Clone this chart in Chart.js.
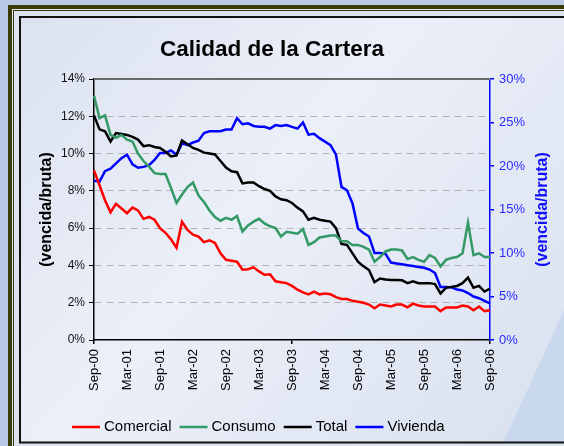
<!DOCTYPE html>
<html>
<head>
<meta charset="utf-8">
<script src="https://cdn.jsdelivr.net/npm/chart.js@4"></script>
<style>
  html, body { margin: 0; padding: 0; background: #b9c9e5; }
  canvas { display: block; }
</style>
</head>
<body>
<canvas id="chart" width="564" height="446"></canvas>
<script>
// monthly categories, Sep-00 .. Sep-06
const months = [
  'Sep-00','Oct-00','Nov-00','Dic-00',
  'Ene-01','Feb-01','Mar-01','Abr-01','May-01','Jun-01','Jul-01','Ago-01','Sep-01','Oct-01','Nov-01','Dic-01',
  'Ene-02','Feb-02','Mar-02','Abr-02','May-02','Jun-02','Jul-02','Ago-02','Sep-02','Oct-02','Nov-02','Dic-02',
  'Ene-03','Feb-03','Mar-03','Abr-03','May-03','Jun-03','Jul-03','Ago-03','Sep-03','Oct-03','Nov-03','Dic-03',
  'Ene-04','Feb-04','Mar-04','Abr-04','May-04','Jun-04','Jul-04','Ago-04','Sep-04','Oct-04','Nov-04','Dic-04',
  'Ene-05','Feb-05','Mar-05','Abr-05','May-05','Jun-05','Jul-05','Ago-05','Sep-05','Oct-05','Nov-05','Dic-05',
  'Ene-06','Feb-06','Mar-06','Abr-06','May-06','Jun-06','Jul-06','Ago-06','Sep-06'
];
const tickLabels = ['Sep-00','Mar-01','Sep-01','Mar-02','Sep-02','Mar-03','Sep-03','Mar-04','Sep-04','Mar-05','Sep-05','Mar-06','Sep-06'];

// % vencida/bruta (left axis)
const comercial = [9.1, 8.3, 7.5, 6.85, 7.3, 7.05, 6.8, 7.1, 6.95, 6.5, 6.6, 6.45, 6.0, 5.75, 5.4, 4.95, 6.35, 5.9, 5.65, 5.55, 5.25, 5.35, 5.2, 4.65, 4.3, 4.25, 4.2, 3.77, 3.8, 3.9, 3.68, 3.5, 3.53, 3.15, 3.1, 3.05,
  2.9, 2.7, 2.55, 2.45, 2.6, 2.45, 2.5, 2.45, 2.3, 2.2, 2.2, 2.1, 2.05, 2.0, 1.9, 1.7, 1.9, 1.85, 1.8, 1.9, 1.9, 1.75, 1.95, 1.85, 1.8, 1.8, 1.8, 1.55, 1.75, 1.75, 1.75, 1.85, 1.8, 1.6, 1.8, 1.55, 1.6];
const consumo = [13.1, 11.9, 12.05, 11.0, 10.85, 11.0, 10.75, 10.65, 10.0, 9.6, 9.3, 8.95, 8.9, 8.9, 8.15, 7.35, 7.8, 8.2, 8.45, 7.75, 7.4, 6.95, 6.6, 6.4, 6.55, 6.45, 6.65, 5.82, 6.15, 6.35, 6.5, 6.25, 6.1, 6.0, 5.55, 5.8,
  5.75, 5.7, 5.95, 5.1, 5.25, 5.5, 5.55, 5.6, 5.6, 5.3, 5.3, 5.1, 5.1, 5.0, 4.85, 4.2, 4.45, 4.75, 4.85, 4.85, 4.8, 4.35, 4.45, 4.3, 4.2, 4.55, 4.4, 3.95, 4.3, 4.4, 4.45, 4.65, 6.3, 4.55, 4.65, 4.45, 4.45];
const total = [12.05, 11.3, 11.2, 10.65, 11.1, 11.05, 11.0, 10.9, 10.75, 10.4, 10.45, 10.35, 10.3, 10.1, 9.85, 9.9, 10.7, 10.5, 10.3, 10.2, 10.05, 10.0, 9.95, 9.6, 9.25, 9.05, 9.0, 8.4, 8.45, 8.45, 8.25, 8.1, 8.0, 7.7, 7.55, 7.5,
  7.35, 7.1, 6.9, 6.45, 6.55, 6.45, 6.4, 6.35, 6.0, 5.15, 5.1, 4.65, 4.2, 3.95, 3.75, 3.1, 3.3, 3.25, 3.22, 3.22, 3.2, 3.05, 3.15, 3.05, 3.05, 3.05, 3.0, 2.5, 2.8, 2.85, 2.9, 3.05, 3.35, 2.8, 2.9, 2.6, 2.75];
// right axis
const vivienda = [18.3, 18.2, 19.4, 19.7, 20.3, 20.9, 21.3, 20.2, 19.8, 19.9, 20.1, 20.7, 21.5, 21.5, 21.8, 21.3, 22.6, 22.4, 22.7, 22.9, 23.8, 24.0, 24.0, 24.0, 24.2, 24.2, 25.5, 24.8, 24.9, 24.6, 24.5, 24.5, 24.3, 24.7, 24.6, 24.7,
  24.5, 24.3, 25.0, 23.6, 23.7, 23.2, 22.8, 22.4, 21.3, 17.6, 17.2, 15.7, 12.8, 12.3, 11.9, 10.0, 10.0, 9.9, 8.9, 8.8, 8.7, 8.6, 8.5, 8.4, 8.3, 8.1, 7.7, 6.1, 6.1, 6.05, 5.8, 5.7, 5.4, 5.0, 4.8, 4.5, 4.2];

const chartTitle = 'Calidad de la Cartera';
const axisTitle = '(vencida/bruta)';
const FONT = "'Liberation Sans', Arial, sans-serif";

// background, frame, title, right axis title, legend
const decor = {
  id: 'decor',
  beforeDraw(chart) {
    const ctx = chart.ctx, w = chart.width;
    ctx.save();
    ctx.fillStyle = '#b9c9e5';
    ctx.fillRect(0, 0, w, chart.height);
    ctx.fillStyle = '#3a3a05';
    ctx.fillRect(8, 5, w, 446);
    ctx.fillStyle = '#dfe5f1';
    ctx.fillRect(12, 9, w, 446);
    ctx.fillStyle = '#3a3a05';
    ctx.fillRect(13, 10, w, 446);
    ctx.fillStyle = '#dde3f0';
    ctx.fillRect(14, 11, w, 446);
    const g = ctx.createLinearGradient(20, 17, 520, 442);
    g.addColorStop(0, '#dbe2f0');
    g.addColorStop(0.45, '#ebeff8');
    g.addColorStop(1, '#dae2f0');
    ctx.fillStyle = g;
    ctx.fillRect(20, 17, w, 425);
    ctx.fillStyle = '#cad8ed';
    ctx.beginPath();
    ctx.moveTo(w, 310);
    ctx.quadraticCurveTo(530, 385, 503, 442);
    ctx.lineTo(w, 442);
    ctx.closePath();
    ctx.fill();
    ctx.strokeStyle = '#111';
    ctx.lineWidth = 2;
    ctx.beginPath();
    ctx.moveTo(w + 2, 17);
    ctx.lineTo(20, 17);
    ctx.lineTo(20, 442.5);
    ctx.lineTo(w + 2, 442.5);
    ctx.stroke();

    ctx.fillStyle = '#000';
    ctx.font = 'bold 22.5px ' + FONT;
    ctx.textAlign = 'center';
    ctx.textBaseline = 'middle';
    ctx.fillText(chartTitle, 272, 50);
    ctx.restore();
  },
  beforeDatasetsDraw(chart) {
    const ctx = chart.ctx, a = chart.chartArea;
    ctx.save();
    ctx.strokeStyle = '#6a6a6a';
    ctx.lineWidth = 2;
    ctx.beginPath();
    ctx.moveTo(a.left, a.top);
    ctx.lineTo(a.right, a.top);
    ctx.stroke();
    ctx.restore();
  },
  afterDraw(chart) {
    const ctx = chart.ctx, a = chart.chartArea;
    ctx.save();
    ctx.translate(542.5, (a.top + a.bottom) / 2);
    ctx.rotate(-Math.PI / 2);
    ctx.fillStyle = '#1010ff';
    ctx.font = 'bold 16px ' + FONT;
    ctx.textAlign = 'center';
    ctx.textBaseline = 'middle';
    ctx.fillText(axisTitle, 0, 0);
    ctx.restore();

    // legend
    ctx.save();
    ctx.font = '15px ' + FONT;
    ctx.textBaseline = 'middle';
    ctx.textAlign = 'left';
    let x = 72;
    const y = 427;
    chart.data.datasets.forEach(ds => {
      ctx.strokeStyle = ds.borderColor;
      ctx.lineWidth = 2.5;
      ctx.beginPath();
      ctx.moveTo(x, y);
      ctx.lineTo(x + 28, y);
      ctx.stroke();
      ctx.fillStyle = '#000';
      ctx.fillText(ds.label, x + 32, y);
      x += 32 + ctx.measureText(ds.label).width + 8;
    });
    ctx.restore();
  }
};

const ctx = document.getElementById('chart').getContext('2d');
const chart = new Chart(ctx, {
  type: 'line',
  data: {
    labels: months,
    datasets: [
      { label: 'Comercial', data: comercial, borderColor: '#ff0000', yAxisID: 'y' },
      { label: 'Consumo', data: consumo, borderColor: '#339966', yAxisID: 'y' },
      { label: 'Total', data: total, borderColor: '#000000', yAxisID: 'y' },
      { label: 'Vivienda', data: vivienda, borderColor: '#0000ff', yAxisID: 'y1' }
    ]
  },
  options: {
    responsive: false,
    animation: false,
    devicePixelRatio: 1,
    layout: { padding: { left: 20, right: 0, top: 79, bottom: 46 } },
    elements: {
      point: { radius: 0 },
      line: { borderWidth: 2.5, tension: 0, fill: false }
    },
    plugins: {
      legend: { display: false },
      title: { display: false },
      tooltip: { enabled: false }
    },
    scales: {
      x: {
        afterFit(s) { s.height = 60; },
        ticks: {
          autoSkip: false,
          minRotation: 90,
          maxRotation: 90,
          padding: 5,
          color: '#000',
          font: { family: FONT, size: 13 },
          callback(v, i) { return tickLabels.includes(months[i]) ? months[i] : null; }
        },
        grid: {
          drawOnChartArea: false,
          tickLength: 4,
          lineWidth: 1.5,
          tickColor: c => tickLabels.includes(months[c.index]) ? '#000' : 'rgba(0,0,0,0)'
        },
        border: { color: '#000', width: 1.5 }
      },
      y: {
        position: 'left',
        min: 0,
        max: 14,
        afterFit(s) { s.width = 74; },
        ticks: {
          stepSize: 2,
          padding: 4,
          color: '#111',
          font: { family: FONT, size: 12 },
          callback: v => v + '%'
        },
        grid: {
          color: c => (c.tick && (c.tick.value === 0 || c.tick.value === 14)) ? 'rgba(0,0,0,0)' : '#b4b4b4',
          lineWidth: 1,
          tickLength: 5,
          tickColor: '#000'
        },
        border: { color: '#000', width: 1.5, dash: [7, 5] },
        title: {
          display: true,
          text: axisTitle,
          color: '#000',
          font: { family: FONT, size: 16, weight: 'bold' },
          padding: { top: 17, bottom: 0 }
        }
      },
      y1: {
        position: 'right',
        min: 0,
        max: 30,
        afterFit(s) { s.width = 74; },
        ticks: {
          stepSize: 5,
          padding: 5,
          color: '#2a2aff',
          font: { family: FONT, size: 13 },
          callback: v => v + '%'
        },
        grid: { drawOnChartArea: false, tickLength: 4, lineWidth: 1.5, tickColor: '#0000ff' },
        border: { color: '#0000ff', width: 1.5 }
      }
    }
  },
  plugins: [decor]
});
</script>
</body>
</html>
